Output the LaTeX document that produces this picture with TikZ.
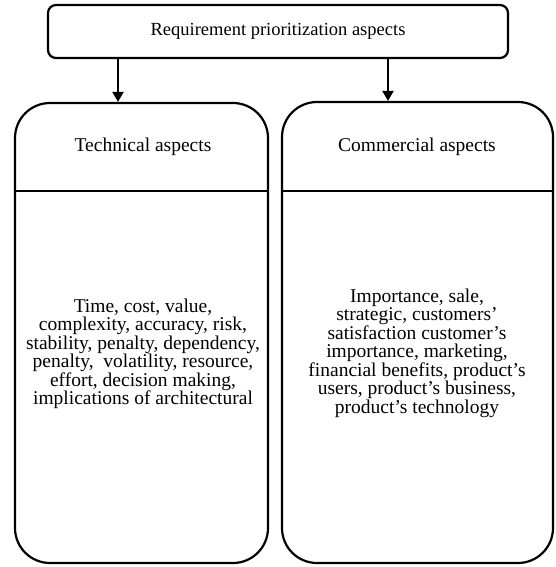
\documentclass[tikz,border=0pt]{standalone}
\usepackage{fontspec}
\setmainfont{Liberation Serif}
\usetikzlibrary{arrows.meta}
\begin{document}
\begin{tikzpicture}[x=1pt,y=-1pt,
  box/.style={draw,line width=2.2pt,rounded corners=#1,inner sep=0pt},
  lbl/.style={align=center,font=\fontsize{19.5}{18.5}\selectfont,inner sep=0pt},
  conn/.style={line width=2.2pt,-{Triangle[length=10pt,width=11pt]}},
  divider/.style={line width=2.2pt}]
\useasboundingbox (0,0) rectangle (556,567);
\node[box=8pt,minimum width=460pt,minimum height=53pt] (top) at (278,31.5) {};
\node[lbl,font=\fontsize{18.5}{18.5}\selectfont] (toptxt) at (278,31) {Requirement prioritization aspects};
\node[box=35pt,minimum width=253pt,minimum height=460pt] (lb) at (141.5,333) {};
\node[box=35pt,minimum width=271pt,minimum height=461pt] (rb) at (417.5,332.5) {};
\coordinate (la) at (118,0);
\coordinate (ra) at (388,0);
\draw[conn] (top.south -| la) -- (lb.north -| la);
\draw[conn] (top.south -| ra) -- (rb.north -| ra);
\coordinate (ly) at (0,191);
\draw[divider] (lb.west |- ly) -- (lb.east |- ly);
\draw[divider] (rb.west |- ly) -- (rb.east |- ly);
\node[lbl] (lh) at (143,147) {Technical aspects};
\node[lbl] (rh) at (417,147) {Commercial aspects};
\node[lbl] (lt) at (143,354) {Time, cost, value,\\complexity, accuracy, risk,\\stability, penalty, dependency,\\penalty,\ \ volatility, resource,\\effort, decision making,\\implications of architectural};
\node[lbl] (rt) at (417,353) {Importance, sale,\\strategic, customers'\\satisfaction customer's\\importance, marketing,\\financial benefits, product's\\users, product's business,\\product's technology};
\end{tikzpicture}
\end{document}
